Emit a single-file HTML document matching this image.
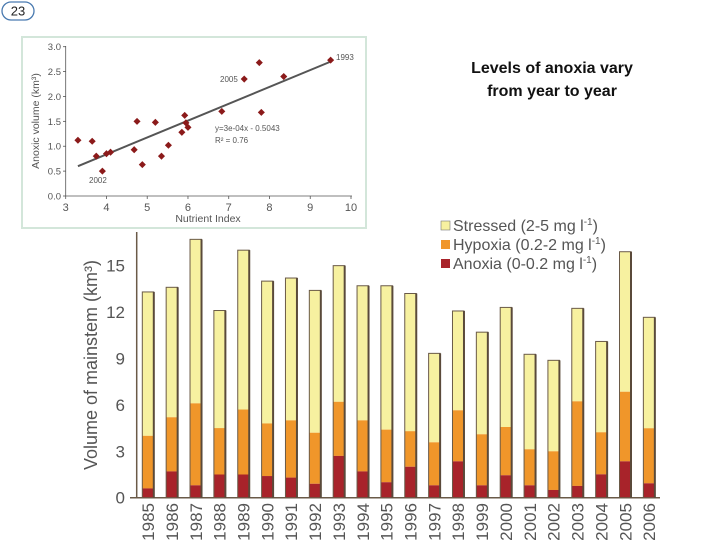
<!DOCTYPE html>
<html><head><meta charset="utf-8"><style>
html,body{margin:0;padding:0;background:#fff;width:728px;height:546px;overflow:hidden;font-family:"Liberation Sans",sans-serif}
</style></head><body>
<svg id="root" width="728" height="546" xmlns="http://www.w3.org/2000/svg">
  <g>
    <rect x="2" y="2" width="32" height="18" rx="9" fill="#fff" stroke="#4a7ab0" stroke-width="1.3"/>
    <text x="18" y="15.5" font-size="13" text-anchor="middle" fill="#222">23</text>
  </g>
  <g font-weight="bold" font-size="16" text-anchor="middle" fill="#111">
    <text x="552" y="73">Levels of anoxia vary</text>
    <text x="552" y="96">from year to year</text>
  </g>
  <g id="scatter">
    <rect x="22" y="37" width="344" height="191" fill="#fff" stroke="#d3e6da" stroke-width="2"/>
  </g>
  <g id="bars"></g>
  <g font-size="16" fill="#555">
    <g><rect x="441" y="221" width="9" height="9" fill="#f7f1a0" stroke="#777" stroke-width="0.6"/><text x="453" y="231">Stressed (2-5 mg l<tspan font-size="10" dy="-6">-1</tspan><tspan dy="6">)</tspan></text></g>
    <g><rect x="441" y="240" width="9" height="9" fill="#f0962a"/><text x="453" y="250">Hypoxia (0.2-2 mg l<tspan font-size="10" dy="-6">-1</tspan><tspan dy="6">)</tspan></text></g>
    <g><rect x="441" y="259" width="9" height="9" fill="#a8232a"/><text x="453" y="269">Anoxia (0-0.2 mg l<tspan font-size="10" dy="-6">-1</tspan><tspan dy="6">)</tspan></text></g>
  </g>
</svg>
<script>
const years=["1985","1986","1987","1988","1989","1990","1991","1992","1993","1994","1995","1996","1997","1998","1999","2000","2001","2002","2003","2004","2005","2006"];
const anoxia=[0.6,1.7,0.8,1.5,1.5,1.4,1.3,0.9,2.7,1.7,1.0,2.0,0.8,2.35,0.8,1.45,0.8,0.5,0.76,1.51,2.35,0.93];
const hypoxiaTop=[4.0,5.2,6.1,4.5,5.7,4.8,5.0,4.2,6.2,5.0,4.4,4.3,3.58,5.65,4.1,4.57,3.13,3.0,6.23,4.23,6.85,4.49];
const totalTop=[13.3,13.6,16.7,12.1,16.0,14.0,14.2,13.4,15.0,13.7,13.7,13.2,9.33,12.07,10.7,12.3,9.27,8.88,12.24,10.1,15.9,11.66];
const yTicks=[0,3,6,9,12,15];
const scX=[3.3,3.65,3.75,3.9,4.0,4.1,4.68,4.75,4.88,5.2,5.35,5.52,5.85,5.92,5.95,6.0,6.83,7.38,7.75,7.8,8.35,9.5];
const scY=[1.12,1.1,0.8,0.5,0.85,0.88,0.93,1.5,0.63,1.48,0.8,1.02,1.28,1.62,1.47,1.38,1.7,2.35,2.68,1.68,2.4,2.73];
const scXTicks=[3,4,5,6,7,8,9,10];
const scYTicks=["0.0","0.5","1.0","1.5","2.0","2.5","3.0"];
const fitLine=[[3.3,0.6],[9.5,2.7]];
const NS="http://www.w3.org/2000/svg";
function mk(p,t,a,txt){const e=document.createElementNS(NS,t);for(const k in a)e.setAttribute(k,a[k]);if(txt!==undefined)e.textContent=txt;p.appendChild(e);return e;}
const bars=document.getElementById('bars');
const y0=497.7,ppu=15.47;
const Y=v=>y0-v*ppu;
const X=i=>142.3+i*23.86;
const bw=11.5;
let e=mk(bars,'line',{x1:136.7,y1:232,x2:136.7,y2:y0,stroke:'#6a5a48','stroke-width':1.5});


e=mk(bars,'line',{x1:130,y1:y0,x2:660,y2:y0,stroke:'#6a5a48','stroke-width':1.5});


yTicks.forEach(t=>{
  e=mk(bars,'text',{x:125,y:Y(t)+6,'font-size':17,'text-anchor':'end',fill:'#555'},String(t));
  
  
});
e=mk(bars,'text',{x:0,y:0,'font-size':18,'text-anchor':'middle',fill:'#555',transform:'translate(97,365) rotate(-90)'},'Volume of mainstem (km³)');


years.forEach((yr,i)=>{
  const x=X(i);
  e=mk(bars,'rect',{x:x,y:Y(totalTop[i]),width:bw,height:Y(hypoxiaTop[i])-Y(totalTop[i]),fill:'#f7f1a0'});
  
  
  e=mk(bars,'rect',{x:x,y:Y(hypoxiaTop[i]),width:bw,height:Y(anoxia[i])-Y(hypoxiaTop[i]),fill:'#f0962a'});
  
  
  e=mk(bars,'rect',{x:x,y:Y(anoxia[i]),width:bw,height:y0-Y(anoxia[i]),fill:'#a8232a'});
  
  
  e=mk(bars,'rect',{x:x,y:Y(totalTop[i]),width:bw,height:y0-Y(totalTop[i]),fill:'none',stroke:'#6a5a48','stroke-width':1});
  
  
  mk(bars,'line',{x1:x+bw,y1:Y(totalTop[i]),x2:x+bw,y2:y0,stroke:'#5a4a3a','stroke-width':2});
  e=mk(bars,'text',{x:0,y:0,'font-size':17,'text-anchor':'end',fill:'#555',transform:`translate(${x+bw/2+6},503) rotate(-90)`},yr);
  
  
});
const sc=document.getElementById('scatter');
const SX=v=>65.7+(v-3)*(351-65.7)/7;
const SY=v=>196-v*(196-46.7)/3;
mk(sc,'line',{x1:65.7,y1:46,x2:65.7,y2:196,stroke:'#555','stroke-width':0.8});
mk(sc,'line',{x1:65.7,y1:196,x2:352,y2:196,stroke:'#555','stroke-width':0.8});
scXTicks.forEach(t=>{
  mk(sc,'line',{x1:SX(t),y1:196,x2:SX(t),y2:199,stroke:'#555','stroke-width':0.8});
  e=mk(sc,'text',{x:SX(t),y:211,'font-size':11,'text-anchor':'middle',fill:'#555'},String(t));
  
  
});
scYTicks.forEach(t=>{
  mk(sc,'line',{x1:63,y1:SY(+t),x2:65.7,y2:SY(+t),stroke:'#555','stroke-width':0.8});
  e=mk(sc,'text',{x:61,y:SY(+t)+3.5,'font-size':9.5,'text-anchor':'end',fill:'#555'},t);
  
  
});
e=mk(sc,'text',{x:208,y:222,'font-size':10.5,'text-anchor':'middle',fill:'#555'},'Nutrient Index');


e=mk(sc,'text',{x:0,y:0,'font-size':10.5,'text-anchor':'middle',fill:'#555',transform:'translate(39,121) rotate(-90)'},'Anoxic volume (km³)');


e=mk(sc,'line',{x1:SX(fitLine[0][0]),y1:SY(fitLine[0][1]),x2:SX(fitLine[1][0]),y2:SY(fitLine[1][1]),stroke:'#555','stroke-width':2});


scX.forEach((x,i)=>{
  e=mk(sc,'rect',{x:SX(x)-2.5,y:SY(scY[i])-2.5,width:5,height:5,fill:'#8b1a1a',transform:`rotate(45 ${SX(x)} ${SY(scY[i])})`});
  
  
});
[['2002',89,183],['2005',220,82],['1993',336,60]].forEach(a=>{
  e=mk(sc,'text',{x:a[1],y:a[2],'font-size':8,fill:'#555'},a[0]);
  
  
});
e=mk(sc,'text',{x:215,y:131,'font-size':8,fill:'#555'},'y=3e-04x - 0.5043');


e=mk(sc,'text',{x:215,y:143,'font-size':8,fill:'#555'},'R² = 0.76');


</script>
</body></html>
